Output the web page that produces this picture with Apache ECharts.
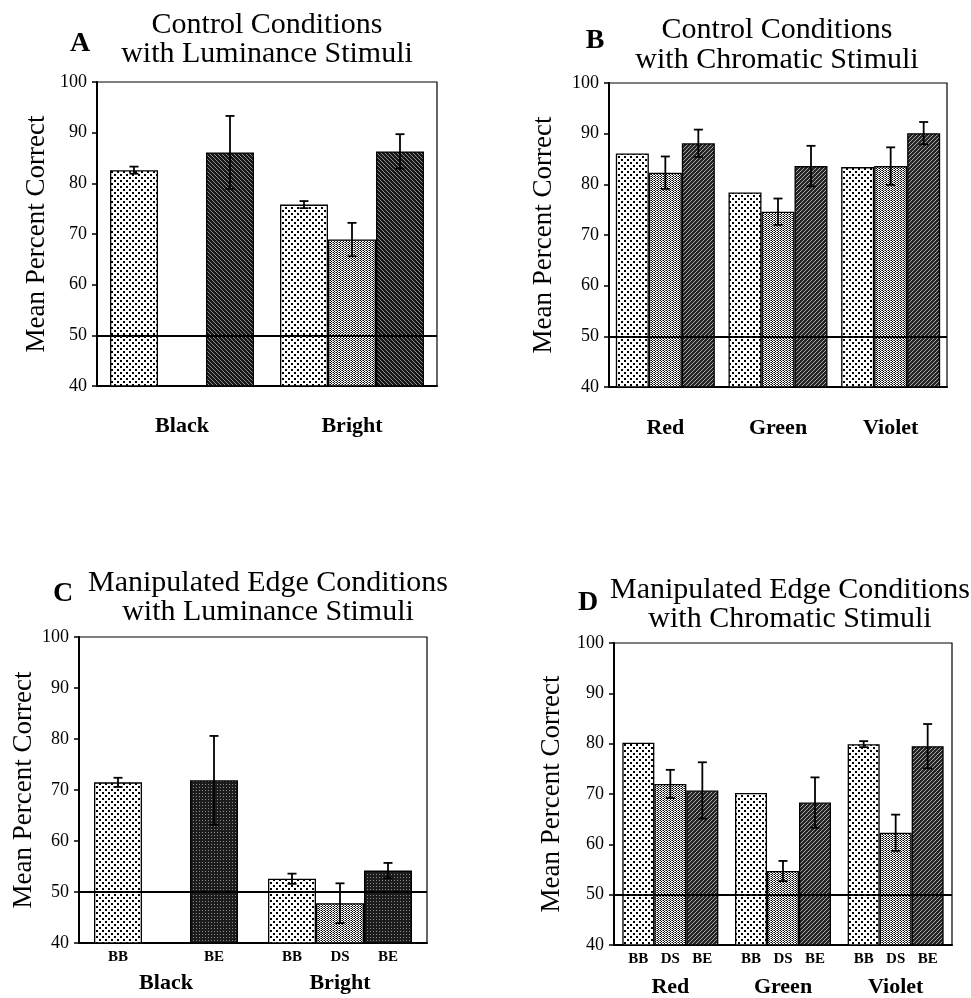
<!DOCTYPE html>
<html><head><meta charset="utf-8">
<script src="https://cdn.jsdelivr.net/npm/echarts@6/dist/echarts.min.js"></script>
<style>html,body{margin:0;padding:0;background:#fff}#c{width:971px;height:998px}</style>
</head><body><div id="c"></div>
<script>
// ---- Data ----
const catsLum = ['Black', 'Bright'];
const catsChr = ['Red', 'Green', 'Violet'];
const seriesNames = ['BB', 'DS', 'BE'];
const yTicks = [40, 50, 60, 70, 80, 90, 100];
const chanceLevel = 50;

// Panel A: control, luminance
const A_BB = [82.6, 75.8];   const A_BB_err = [0.7, 0.7];
const A_DS = [null, 68.9];   const A_DS_err = [null, 3.3];
const A_BE = [86.1, 86.3];   const A_BE_err = [7.2, 3.4];
// Panel B: control, chromatic
const B_BB = [86.1, 78.4, 83.4]; const B_BB_err = [null, null, null];
const B_DS = [82.3, 74.6, 83.6]; const B_DS_err = [3.2, 2.6, 3.7];
const B_BE = [88.1, 83.6, 90.1]; const B_BE_err = [2.7, 4.0, 2.2];
// Panel C: manipulated edge, luminance
const C_BB = [71.5, 52.6];   const C_BB_err = [0.9, 1.0];
const C_DS = [null, 47.8];   const C_DS_err = [null, 3.9];
const C_BE = [71.9, 54.2];   const C_BE_err = [8.7, 1.5];
// Panel D: manipulated edge, chromatic
const D_BB = [80.2, 70.2, 79.9]; const D_BB_err = [null, null, 0.6];
const D_DS = [72.0, 54.7, 62.3]; const D_DS_err = [2.8, 2.0, 3.6];
const D_BE = [70.7, 68.3, 79.5]; const D_BE_err = [5.6, 5.0, 4.4];

// ---- Patterns ----
function tile(w, h, draw) {
  const c = document.createElement('canvas'); c.width = w; c.height = h;
  const g = c.getContext('2d'); draw(g, w, h); return c;
}
const patBB = tile(6, 6, (g) => { g.fillStyle = '#fff'; g.fillRect(0,0,6,6); g.fillStyle = '#000'; g.fillRect(0,0,2,2); g.fillRect(3,3,2,2); });
const patDS = tile(3, 2, (g) => { g.fillStyle = '#fff'; g.fillRect(0,0,3,2); g.fillStyle = '#000'; g.fillRect(0,0,1,1); g.fillRect(1,1,1,1); g.fillStyle='#777'; g.fillRect(2,0,1,1); });
const patBEback = tile(4, 4, (g) => { g.fillStyle = '#161616'; g.fillRect(0,0,4,4); g.strokeStyle = '#909090'; g.lineWidth = 1; g.beginPath(); g.moveTo(-1,-1); g.lineTo(5,5); g.stroke(); });
const patBEfwd = tile(4, 4, (g) => { g.fillStyle = '#262626'; g.fillRect(0,0,4,4); g.strokeStyle = '#a8a8a8'; g.lineWidth = 1; g.beginPath(); g.moveTo(-1,5); g.lineTo(5,-1); g.stroke(); });
const patBEdot = tile(3, 3, (g) => { g.fillStyle = '#1c1c1c'; g.fillRect(0,0,3,3); g.fillStyle = '#8a8a8a'; g.fillRect(1,1,1,1); });
const P = (c) => ({ image: c, repeat: 'repeat' });

const SERIF = 'Liberation Serif';

const panels = [
  { cats: catsLum, vals: [A_BB, A_DS, A_BE], errs: [A_BB_err, A_DS_err, A_BE_err], pats: [patBB, patDS, patBEback],
    grid: { left: 97, top: 82, width: 340, height: 304 }, bw: 48, labMargin: 29, sub: false, nameGap: 47 },
  { cats: catsChr, vals: [B_BB, B_DS, B_BE], errs: [B_BB_err, B_DS_err, B_BE_err], pats: [patBB, patDS, patBEfwd],
    grid: { left: 609, top: 83, width: 338, height: 304 }, bw: 33, labMargin: 30, sub: false, nameGap: 52 },
  { cats: catsLum, vals: [C_BB, C_DS, C_BE], errs: [C_BB_err, C_DS_err, C_BE_err], pats: [patBB, patDS, patBEdot],
    grid: { left: 79, top: 637, width: 348, height: 306 }, bw: 48, labMargin: 29, sub: true, nameGap: 42 },
  { cats: catsChr, vals: [D_BB, D_DS, D_BE], errs: [D_BB_err, D_DS_err, D_BE_err], pats: [patBB, patDS, patBEfwd],
    grid: { left: 614, top: 643, width: 338, height: 305 }, bw: 32, labMargin: 31, sub: true, nameGap: 49 }
];

const grids = [], xAxes = [], yAxes = [], series = [];
panels.forEach((p, i) => {
  grids.push(Object.assign({ show: true, borderColor: '#000', borderWidth: 1.2, backgroundColor: 'transparent' }, p.grid));
  xAxes.push({
    type: 'category', gridIndex: i, data: p.cats,
    axisLine: { lineStyle: { color: '#000', width: 2 } }, axisTick: { show: false },
    axisLabel: { color: '#000', fontFamily: SERIF, fontWeight: 'bold', fontSize: 22, margin: p.labMargin }
  });
  yAxes.push({
    type: 'value', gridIndex: i, min: 40, max: 100, interval: 10,
    name: 'Mean Percent Correct', nameLocation: 'middle', nameGap: p.nameGap,
    nameTextStyle: { color: '#000', fontFamily: SERIF, fontSize: 27 },
    axisLine: { show: true, lineStyle: { color: '#000', width: 2 } },
    axisTick: { show: true, length: 5, lineStyle: { color: '#000', width: 1.5 } },
    axisLabel: { color: '#000', fontFamily: SERIF, fontSize: 18, margin: 10,
                 formatter: (v) => yTicks.includes(v) ? String(v) : '' },
    splitLine: { show: false }
  });
  p.vals.forEach((arr, k) => {
    const s = {
      type: 'bar', name: seriesNames[k], xAxisIndex: i, yAxisIndex: i,
      data: arr, barWidth: p.bw, barGap: '0%',
      itemStyle: { color: P(p.pats[k]), borderColor: '#000', borderWidth: 1.3 },
      label: { show: p.sub, position: 'bottom', distance: 6, formatter: seriesNames[k],
               color: '#000', fontFamily: SERIF, fontWeight: 'bold', fontSize: 15 },
      z: 2, silent: true
    };
    if (k === 0) {
      s.markLine = { silent: true, symbol: 'none', label: { show: false },
        lineStyle: { color: '#000', width: 2, type: 'solid' }, data: [{ yAxis: chanceLevel }] };
    }
    series.push(s);
  });
  const errData = [];
  p.vals.forEach((arr, k) => arr.forEach((v, c) => {
    const e = p.errs[k][c];
    if (v != null && e != null) errData.push([c, v, e, k]);
  }));
  const bw = p.bw;
  series.push({
    type: 'custom', xAxisIndex: i, yAxisIndex: i, data: errData, z: 5, silent: true,
    renderItem: (params, api) => {
      const c = api.value(0), v = api.value(1), e = api.value(2), k = api.value(3);
      const t = api.coord([c, v + e]), b = api.coord([c, v - e]);
      const x = t[0] + (k - 1) * bw, cap = 4.5;
      const st = { stroke: '#000', lineWidth: 1.8 };
      return { type: 'group', children: [
        { type: 'line', shape: { x1: x, y1: t[1], x2: x, y2: b[1] }, style: st },
        { type: 'line', shape: { x1: x - cap, y1: t[1], x2: x + cap, y2: t[1] }, style: st },
        { type: 'line', shape: { x1: x - cap, y1: b[1], x2: x + cap, y2: b[1] }, style: st }
      ]};
    }
  });
});

function txt(x, y, text, size, weight) {
  return { type: 'text', x: x, y: y, style: { text: text, fill: '#000', textAlign: 'center', textVerticalAlign: 'middle',
           font: (weight || 'normal') + ' ' + size + 'px "' + SERIF + '"' } };
}
const graphics = [
  txt(80, 44, 'A', 28, 'bold'),
  txt(267, 25, 'Control Conditions', 30), txt(267, 54, 'with Luminance Stimuli', 30),
  txt(595, 41, 'B', 28, 'bold'),
  txt(777, 30, 'Control Conditions', 30), txt(777, 60, 'with Chromatic Stimuli', 30),
  txt(63, 594, 'C', 28, 'bold'),
  txt(268, 583, 'Manipulated Edge Conditions', 30), txt(268, 612, 'with Luminance Stimuli', 30),
  txt(588, 603, 'D', 28, 'bold'),
  txt(790, 590, 'Manipulated Edge Conditions', 30), txt(790, 619, 'with Chromatic Stimuli', 30)
];

const chart = echarts.init(document.getElementById('c'), null, { renderer: 'canvas' });
chart.setOption({
  backgroundColor: '#fff', animation: false,
  grid: grids, xAxis: xAxes, yAxis: yAxes, series: series, graphic: graphics
});
</script></body></html>
